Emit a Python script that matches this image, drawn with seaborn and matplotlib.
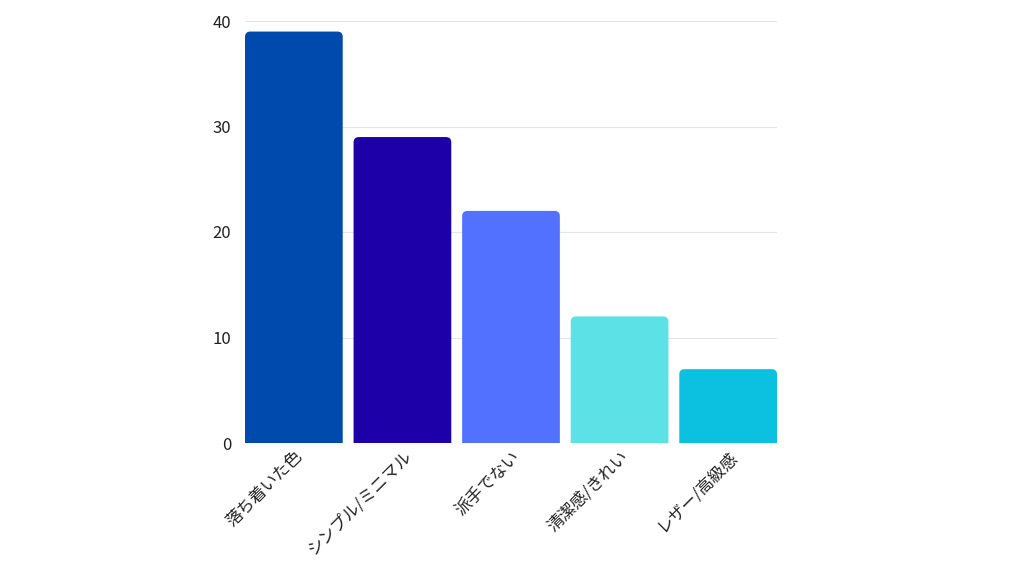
import matplotlib
matplotlib.use("Agg")
import matplotlib.pyplot as plt
import seaborn as sns
from matplotlib.patches import FancyBboxPatch

categories = ["落ち着いた色", "シンプル/ミニマル", "派手でない", "清潔感/きれい", "レザー/高級感"]
values = [39, 29, 22, 12, 7]
colors = ["#004AAD", "#1D00A8", "#5271FF", "#5CE1E6", "#0CC0DF"]

sns.set_theme(style="white")
plt.rcParams['font.family'] = ['Noto Sans CJK JP', 'DejaVu Sans']

fig = plt.figure(figsize=(10.24, 5.76), dpi=100)
ax = fig.add_axes([245/1024, 1-443/576, 532/1024, 422/576])
sns.barplot(x=categories, y=values, hue=categories, palette=colors, width=0.9,
            legend=False, ax=ax, saturation=1)

for p in list(ax.patches):
    x, y0 = p.get_x(), p.get_y()
    w, h = p.get_width(), p.get_height()
    fb = FancyBboxPatch((x, y0 - 1), w, h + 1, boxstyle="round,pad=0,rounding_size=0.05",
                        mutation_aspect=10, facecolor=p.get_facecolor(), edgecolor="none",
                        clip_on=True, zorder=2)
    p.remove()
    ax.add_patch(fb)

ax.set_xlim(-0.45, 4.45)
ax.set_ylim(0, 40)
ax.set_yticks([0, 10, 20, 30, 40])
ax.yaxis.grid(True, color="#e6e6e6", linewidth=0.8, zorder=0)
ax.set_axisbelow(True)
for s in ax.spines.values():
    s.set_visible(False)
ax.tick_params(axis="both", length=0, labelsize=12, colors="#222222")
ax.tick_params(axis="y", pad=10)
plt.setp(ax.get_xticklabels(), rotation=45, ha="right", rotation_mode="anchor")
ax.set_xlabel("")
ax.set_ylabel("")
fig.savefig("out.png", dpi=100)
